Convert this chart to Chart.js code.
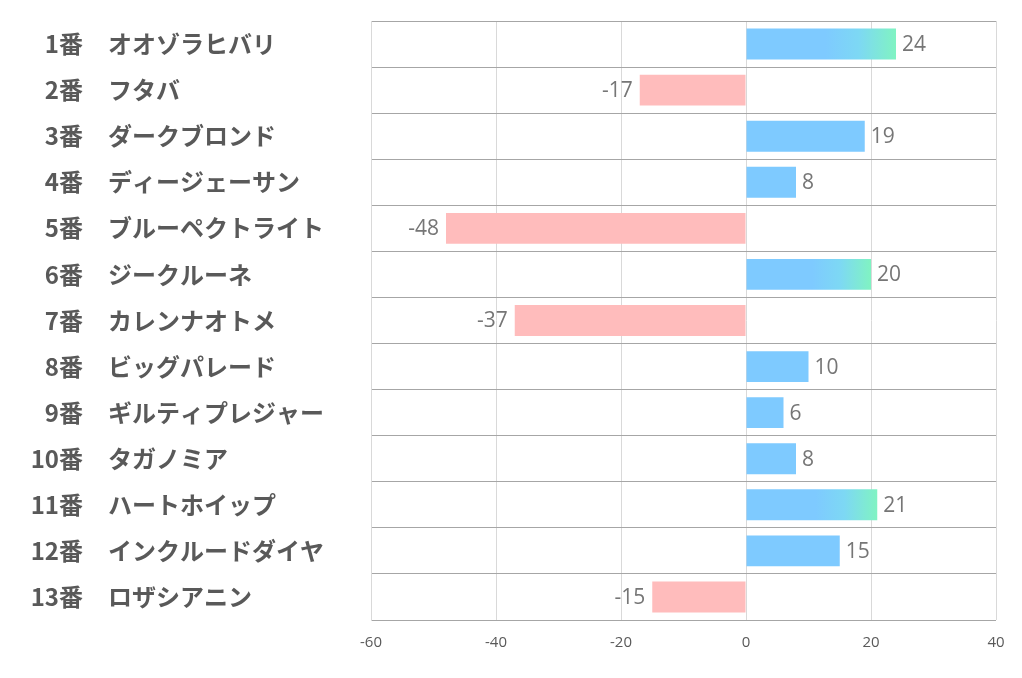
<!DOCTYPE html>
<html>
<head>
<meta charset="utf-8">
<script src="https://cdn.jsdelivr.net/npm/chart.js@4"></script>
<style>
html,body{margin:0;padding:0;background:#fff;}
#wrap{width:1022px;height:678px;}
</style>
</head>
<body>
<div id="wrap"><canvas id="c" width="1022" height="678"></canvas></div>
<script>
const numbers = ['1番','2番','3番','4番','5番','6番','7番','8番','9番','10番','11番','12番','13番'];
const names = ['オオゾラヒバリ','フタバ','ダークブロンド','ディージェーサン','ブルーペクトライト','ジークルーネ','カレンナオトメ','ビッグパレード','ギルティプレジャー','タガノミア','ハートホイップ','インクルードダイヤ','ロザシアニン'];
const values = [24, -17, 19, 8, -48, 20, -37, 10, 6, 8, 21, 15, -15];
const xMin = -60, xMax = 40, xStep = 20;

const BLUE = '#7ECAFF', GREEN = '#80F3C2', PINK = '#FFBCBC';

function barColor(ctx) {
  const v = ctx.raw;
  if (v < 0) return PINK;
  if (v < 20) return BLUE;
  const chart = ctx.chart;
  const xs = chart.scales.x;
  if (!xs) return BLUE;
  const x0 = xs.getPixelForValue(0), x1 = xs.getPixelForValue(v);
  if (!isFinite(x0) || !isFinite(x1)) return BLUE;
  const g = chart.ctx.createLinearGradient(x0, 0, x1, 0);
  g.addColorStop(0, BLUE);
  g.addColorStop(0.53, BLUE);
  g.addColorStop(0.75, '#7DD8F4');
  g.addColorStop(1, GREEN);
  return g;
}

const labelPlugin = {
  id: 'labels',
  afterDatasetsDraw(chart) {
    const c = chart.ctx;
    const meta = chart.getDatasetMeta(0);
    c.save();
    c.font = '21px "Open Sans", "Noto Sans", sans-serif';
    c.fillStyle = '#767676';
    c.textBaseline = 'middle';
    meta.data.forEach((el, i) => {
      const v = values[i];
      if (v >= 0) { c.textAlign = 'left'; c.fillText(String(v), el.x + 6, el.y + 1); }
      else { c.textAlign = 'right'; c.fillText(String(v), el.x - 7, el.y + 1); }
    });
    // left category labels
    const ys = chart.scales.y;
    c.font = 'bold 24px "Noto Sans CJK JP", sans-serif';
    c.fillStyle = '#595959';
    numbers.forEach((n, i) => {
      const y = ys.getPixelForValue(i);
      c.textAlign = 'right';
      c.fillText(n, 83, y);
      c.textAlign = 'left';
      c.fillText(names[i], 108, y);
    });
    c.restore();
  }
};

new Chart(document.getElementById('c'), {
  type: 'bar',
  data: {
    labels: names,
    datasets: [{
      data: values,
      backgroundColor: barColor,
      borderWidth: 0,
      barPercentage: 0.67,
      categoryPercentage: 1.0
    }]
  },
  options: {
    indexAxis: 'y',
    responsive: false,
    animation: false,
    layout: { padding: { left: 371, right: 26, top: 21, bottom: 12 } },
    plugins: { legend: { display: false }, tooltip: { enabled: false } },
    scales: {
      x: {
        min: xMin, max: xMax,
        ticks: { stepSize: xStep, color: '#595959', font: { size: 15, family: '"Open Sans", sans-serif' }, padding: 14 },
        grid: { color: '#D9D9D9', drawTicks: false, lineWidth: 1 },
        border: { display: false }
      },
      y: {
        ticks: { display: false },
        grid: { color: '#A6A6A6', drawTicks: false, offset: true, lineWidth: 1 },
        border: { display: true, color: '#D9D9D9' }
      }
    }
  },
  plugins: [labelPlugin]
});
</script>
</body>
</html>
